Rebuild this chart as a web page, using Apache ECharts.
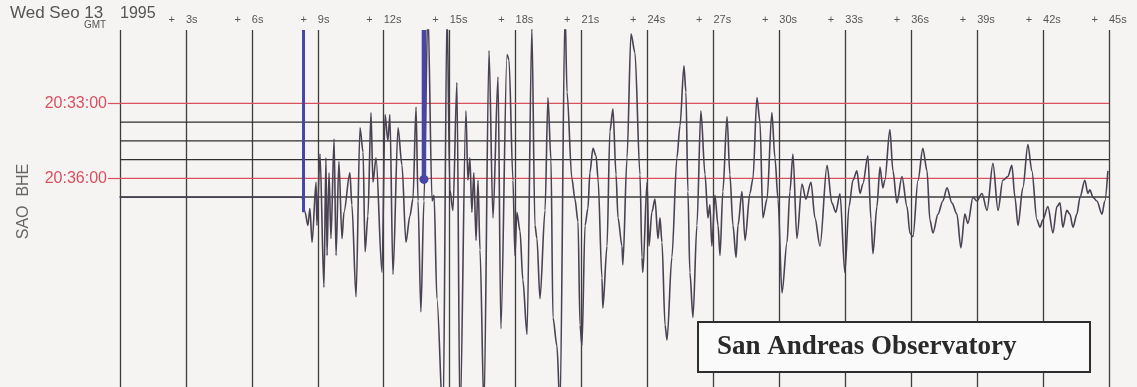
<!DOCTYPE html>
<html><head><meta charset="utf-8">
<script src="https://cdn.jsdelivr.net/npm/echarts@6/dist/echarts.min.js"></script>
<style>html,body{margin:0;padding:0;background:#f6f4f3;}#c{width:1137px;height:387px;}</style>
</head><body><div id="c"></div>
<script>
// time (s after start) and amplitude (helicorder line spacing = 10 units)
const traceT = [0,8.28,8.42,8.55,8.64,8.74,8.92,8.96,9.1,9.28,9.37,9.42,9.51,9.6,9.74,9.83,9.96,10.1,10.19,10.46,10.55,10.74,10.92,11.06,11.15,11.28,11.42,11.51,11.65,11.92,12.06,12.19,12.28,12.42,12.65,12.83,13.01,13.19,13.33,13.47,13.56,13.69,13.83,14.01,14.2,14.29,14.42,14.7,14.88,15.01,15.15,15.33,15.47,15.74,15.83,15.92,16.01,16.1,16.2,16.29,16.38,16.56,16.79,16.97,17.2,17.33,17.61,17.7,17.88,17.97,18.06,18.2,18.33,18.52,18.74,18.88,18.97,19.11,19.34,19.47,19.61,19.7,19.88,20.02,20.25,20.34,20.56,20.7,20.84,20.93,21.02,21.16,21.29,21.38,21.52,21.66,21.75,21.93,21.97,22.16,22.29,22.43,22.57,22.66,22.84,22.88,23.07,23.25,23.43,23.66,23.75,23.79,23.98,24.07,24.2,24.34,24.48,24.57,24.66,24.8,24.89,25.11,25.34,25.48,25.66,25.75,25.84,25.93,26.07,26.25,26.43,26.62,26.75,26.84,26.93,27.07,27.21,27.3,27.43,27.62,27.75,27.89,28.03,28.12,28.3,28.44,28.66,28.8,28.98,29.12,29.25,29.44,29.66,29.8,29.94,30.12,30.35,30.48,30.62,30.8,31.03,31.21,31.44,31.62,31.85,32.17,32.39,32.57,32.76,32.98,33.17,33.35,33.53,33.67,33.8,34.03,34.17,34.26,34.44,34.58,34.71,34.8,35.03,35.17,35.35,35.58,35.81,35.94,36.08,36.31,36.53,36.72,36.85,36.99,37.22,37.44,37.63,37.85,38.08,38.26,38.44,38.58,38.81,38.99,39.22,39.45,39.72,39.95,40.17,40.4,40.58,40.72,40.86,41.08,41.31,41.49,41.72,41.86,41.99,42.22,42.45,42.63,42.77,42.9,43.08,43.22,43.36,43.54,43.68,43.9,44.04,44.13,44.27,44.45,44.68,44.81,44.95];
const traceV = [0,0,-8,-15,-6,-24,8,-15,23,-48,21,-31,13,-22,31,-31,19,-22,-8,13,-4,-53,37,24,-29,-10,45,8,21,-40,44,30,44,-41,37,17,-24,-10,-1,48,-2,-61,-2,100,-2,1,-54,-119,100,4,-7,61,-119,46,9,21,-8,13,-23,9,-28,-113,78,-11,64,-70,76,73,9,-31,-8,-18,-44,-73,90,-15,-22,-54,-7,53,20,-64,-79,-113,100,56,10,-1,-13,-68,-79,-15,-6,13,26,22,10,-43,-59,-26,35,47,12,-11,-26,-36,21,87,77,12,-32,-40,8,-26,-8,-1,-22,-11,-24,-68,-76,-32,21,38,70,56,3,-40,-64,-15,46,12,-11,-4,-26,1,-15,-31,3,43,12,-15,-32,-15,3,-23,2,10,53,40,-11,-1,45,21,-1,-51,-24,3,23,-22,7,-1,8,-11,-26,17,-3,-8,2,-40,-5,9,14,2,7,22,-12,-30,-5,16,5,9,36,14,-3,11,-5,-19,-21,9,26,14,-12,-19,-9,-2,5,-3,-9,-27,-9,-14,0,-2,2,-7,18,-7,9,11,17,0,-15,5,28,14,-12,-16,-12,-5,-19,-5,-3,-16,-7,-9,-16,-9,0,9,2,4,0,-2,-9,-2,14];
const heliLevels = [50, 40, 30, 20, 10];
const redLevels = [50, 10];
const heliLabels = {50: '20:33:00', 10: '20:36:00'};
const pickT = [8.35, 13.83];
const pickBottom = [-8, 9.5];
const pickTop = 89;
const dateText = 'Wed Seo 13';
const yearText = '1995';
const zoneText = 'GMT';
const stationText = 'SAO  BHE';
const boxText = 'San Andreas Observatory';

const FONT = "'Liberation Sans', Arial, sans-serif";
const RED = '#d9505f';
const GRID = '#3d3d3d';

const series = [];
heliLevels.forEach(v => {
  series.push({type:'line', data:[[0,v],[45,v]], symbol:'none', silent:true, z:1,
    lineStyle:{color: redLevels.includes(v) ? RED : '#2f2f2f', width:1.3}});
});
series.push({type:'line', data: traceT.map((t,i)=>[t, traceV[i]]), symbol:'none', z:3,
  smooth:0.3, smoothMonotone:'x',
  lineStyle:{color:'#4a4252', width:1.6}});
pickT.forEach((t,i) => {
  series.push({type:'line', z:4, showSymbol:true,
    data:[{value:[t,pickTop], symbol:'none'}, {value:[t,pickBottom[i]], symbol: i===1?'circle':'none', symbolSize:9}],
    itemStyle:{color:'#4746a6'},
    lineStyle:{color:'#4746a6', width: i===1?4.5:3}});
});

const chart = echarts.init(document.getElementById('c'));
chart.setOption({
  animation:false,
  backgroundColor:'#f6f4f3',
  grid:{left:120, right:28, top:30, bottom:0, containLabel:false},
  xAxis:[{
    type:'value', min:0, max:45, interval:3, position:'top',
    axisLine:{show:true, lineStyle:{color:GRID, width:1.5}},
    axisTick:{show:false},
    splitLine:{show:true, lineStyle:{color:GRID, width:1.3}},
    axisLabel:{align:'left', margin:5, color:'#555', fontFamily:FONT, fontSize:11,
      showMinLabel:true, showMaxLabel:true,
      formatter: v => v===0 ? '{y|'+yearText+'}' : '{l|'+v+'s}',
      rich:{y:{fontSize:16, color:'#555', fontFamily:FONT, padding:[0,0,3,0]}, l:{fontSize:11, color:'#555', fontFamily:FONT}}}
  },{
    type:'value', min:0, max:45, interval:3, position:'top',
    axisLine:{show:false}, axisTick:{show:false}, splitLine:{show:false},
    axisLabel:{align:'right', margin:5, padding:[0,11,0,0], color:'#555', fontFamily:FONT, fontSize:11,
      showMinLabel:true, showMaxLabel:true,
      formatter: v => v===0 ? '' : '+'}
  }],
  yAxis:{
    type:'value', min:-101, max:89,
    axisLine:{show:false}, splitLine:{show:false},
    axisTick:{show:true, customValues:[10,50], length:12, lineStyle:{color:RED, width:1.2}},
    axisLabel:{customValues:[10,50], formatter: v => heliLabels[v] || '', color:RED, fontFamily:FONT, fontSize:16, margin:13},
    name: stationText, nameLocation:'middle', nameGap:88,
    nameTextStyle:{color:'#666', fontFamily:FONT, fontSize:16, padding:[0,0,0,14]}
  },
  graphic:[
    {type:'text', z:100, style:{x:10, y:13, text:dateText, font:'17px '+FONT, fill:'#555', verticalAlign:'middle'}},
    {type:'text', z:100, style:{x:84, y:25.5, text:zoneText, font:'10px '+FONT, fill:'#555', verticalAlign:'middle'}},
    {type:'rect', z:100, shape:{x:698, y:322, width:392, height:50}, style:{fill:'#fbfafa', stroke:'#2d2d2d', lineWidth:2}},
    {type:'text', z:101, style:{x:717, y:347, text:boxText, font:"bold 27px 'Liberation Serif', 'Times New Roman', serif", fill:'#2a2a2a', verticalAlign:'middle'}}
  ],
  series: series
});
</script></body></html>
